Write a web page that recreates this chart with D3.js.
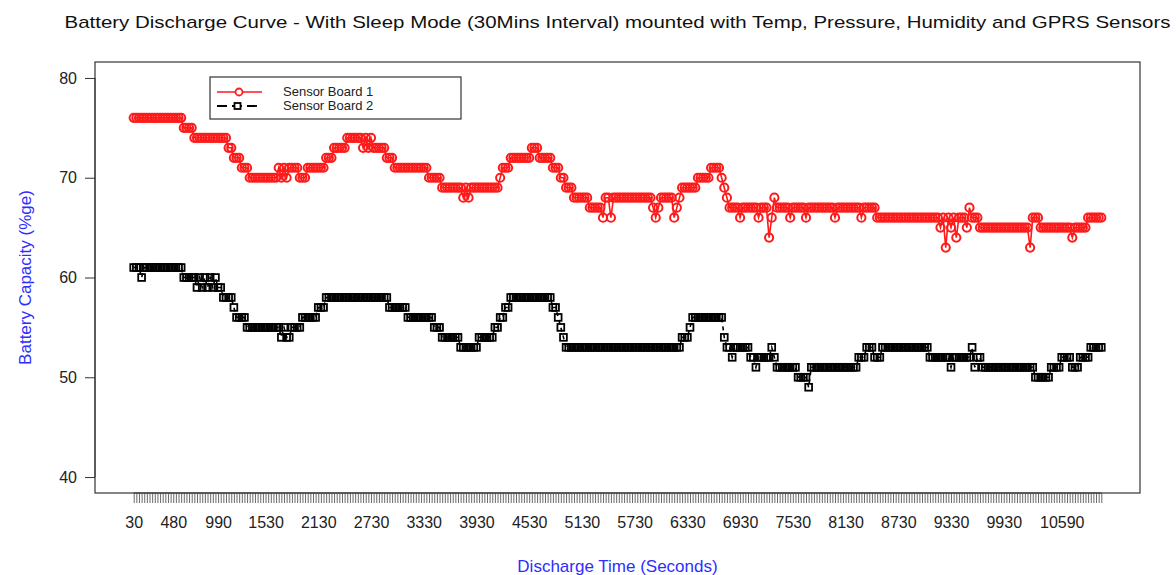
<!DOCTYPE html>
<html>
<head>
<meta charset="utf-8">
<script src="https://cdn.jsdelivr.net/npm/d3@7"></script>
<style>
	body { margin: 0; background: #fff; }
	text { font-family: "Liberation Sans", Arial, sans-serif; }
</style>
</head>
<body>
<div id="chart"></div>
<script>
// readings every 30 seconds, from 30s to 11040s
const times = d3.range(30, 11041, 30);

// battery capacity, as [value, number of consecutive readings]
const board1Runs = [
	[76,19],[75,4],[74,13],[73,2],[72,3],[71,3],[70,11],[71,1],[70,1],[71,1],[70,1],[71,4],[70,3],
	[71,7],[72,3],[73,5],[74,6],[73,1],[74,1],[73,1],[74,1],[73,5],[72,3],[71,13],[70,5],[69,8],
	[68,1],[69,1],[68,1],[69,11],[70,1],[71,3],[72,8],[73,3],[72,5],[71,3],[70,2],[69,3],[68,6],
	[67,5],[66,1],[68,2],[66,1],[68,15],[67,1],[66,1],[67,1],[68,5],[66,1],[67,1],[68,1],[69,6],
	[70,5],[71,4],[70,1],[69,1],[68,1],[67,4],[66,1],[67,6],[66,1],[67,3],[64,1],[66,1],[68,1],
	[67,5],[66,1],[67,5],[66,1],[67,10],[66,1],[67,9],[66,1],[67,5],[66,24],[65,1],[66,1],[63,1],
	[66,1],[65,1],[66,1],[64,1],[66,3],[65,1],[67,1],[66,3],[65,19],[63,1],[66,3],[65,12],[64,1],
	[65,5],[66,6]
];
const board2Runs = [
	[61,3],[60,1],[61,15],[60,5],[59,1],[60,1],[59,1],[60,1],[59,1],[60,1],[59,1],[60,1],[59,2],
	[58,4],[57,1],[56,4],[55,13],[54,1],[55,1],[54,2],[55,4],[56,6],[57,3],[58,24],[57,7],[56,10],
	[55,3],[54,7],[53,7],[54,6],[55,2],[56,2],[57,2],[58,16],[57,2],[56,1],[55,1],[54,1],[53,44],
	[54,3],[55,1],[56,12],[54,1],[53,2],[52,1],[53,6],[52,2],[51,1],[52,5],[53,1],[52,1],[51,8],
	[50,4],[49,1],[51,18],[52,3],[53,3],[52,3],[53,18],[52,8],[51,1],[52,7],[53,1],[51,1],[52,2],
	[51,20],[50,6],[51,4],[52,4],[51,3],[52,4],[53,5]
];

// labels that fit under the crowded axis
const xTickLabels = [30, 480, 990, 1530, 2130, 2730, 3330, 3930, 4530, 5130, 5730, 6330, 6930, 7530, 8130, 8730, 9330, 9930, 10590];
const yTicks = [40, 50, 60, 70, 80];
const seriesNames = ["Sensor Board 1", "Sensor Board 2"];

function expand(runs) {
	let out = [];
	runs.forEach(function(r) { for (let k = 0; k < r[1]; k++) out.push(r[0]); });
	return out;
}

const board1 = expand(board1Runs).map(function(v, i) { return {t: times[i], v: v}; });
const board2 = expand(board2Runs).map(function(v, i) { return {t: times[i], v: v}; });

const width = 1176, height = 575;
const box = {left: 95, right: 1140, top: 62, bottom: 493};

const svg = d3.select("#chart").append("svg")
	.attr("width", width)
	.attr("height", height);

// R style 4% padding on both axes
const tSpan = times[times.length - 1] - times[0];
const x = d3.scaleLinear()
	.domain([times[0] - 0.04 * tSpan, times[times.length - 1] + 0.04 * tSpan])
	.range([box.left, box.right]);
const y = d3.scaleLinear()
	.domain([40 - 0.04 * 40, 80 + 0.04 * 40])
	.range([box.bottom, box.top]);

// plot frame
svg.append("rect")
	.attr("x", box.left)
	.attr("y", box.top)
	.attr("width", box.right - box.left)
	.attr("height", box.bottom - box.top)
	.style("fill", "none")
	.style("stroke", "#333")
	.style("stroke-width", 1.2);

// y axis
const yAxis = svg.append("g")
	.attr("transform", "translate(" + box.left + ",0)")
	.call(d3.axisLeft(y).tickValues(yTicks).tickSize(10).tickPadding(8).tickFormat(d3.format("d")));
yAxis.select(".domain").attr("d", "M0," + y(40) + "V" + y(80)).style("stroke", "#333");
yAxis.selectAll("line").style("stroke", "#333");
yAxis.selectAll("text").style("font-size", "16px").style("fill", "#222");

// x axis: a tick for every reading, labels only where they fit
const xAxis = svg.append("g")
	.attr("transform", "translate(0," + box.bottom + ")")
	.call(d3.axisBottom(x).tickValues(times).tickSize(10).tickPadding(14)
		.tickFormat(function(d) { return xTickLabels.indexOf(d) >= 0 ? d : ""; }));
xAxis.select(".domain").attr("d", "M" + x(times[0]) + ",0H" + x(times[times.length - 1])).style("stroke", "#333");
xAxis.selectAll("line").style("stroke", "#444").style("stroke-width", 0.8);
xAxis.selectAll("text").style("font-size", "16px").style("fill", "#222");

// titles
svg.append("text")
	.attr("x", (box.left + box.right) / 2)
	.attr("y", 28)
	.attr("text-anchor", "middle")
	.attr("textLength", 1106)
	.attr("lengthAdjust", "spacingAndGlyphs")
	.style("font-size", "17px")
	.style("fill", "#111")
	.text("Battery Discharge Curve - With Sleep Mode (30Mins Interval) mounted with Temp, Pressure, Humidity and GPRS Sensors");

svg.append("text")
	.attr("x", (box.left + box.right) / 2)
	.attr("y", 572)
	.attr("text-anchor", "middle")
	.style("font-size", "17px")
	.style("fill", "#2d2dff")
	.text("Discharge Time (Seconds)");

svg.append("text")
	.attr("transform", "translate(31," + ((box.top + box.bottom) / 2) + ") rotate(-90)")
	.attr("text-anchor", "middle")
	.style("font-size", "17px")
	.style("fill", "#2d2dff")
	.text("Battery Capacity (%ge)");

const line = d3.line()
	.x(function(d) { return x(d.t); })
	.y(function(d) { return y(d.v); });

// Sensor Board 2: dashed black with open squares
svg.append("path")
	.datum(board2)
	.attr("d", line)
	.style("fill", "none")
	.style("stroke", "#000")
	.style("stroke-width", 1.6)
	.style("stroke-dasharray", "4,4");

svg.selectAll(".sq")
	.data(board2)
	.enter().append("rect")
	.attr("class", "sq")
	.attr("x", function(d) { return x(d.t) - 3.4; })
	.attr("y", function(d) { return y(d.v) - 3.4; })
	.attr("width", 6.8)
	.attr("height", 6.8)
	.style("fill", "none")
	.style("stroke", "#000")
	.style("stroke-width", 1.8);

// Sensor Board 1: red line with open circles
svg.append("path")
	.datum(board1)
	.attr("d", line)
	.style("fill", "none")
	.style("stroke", "#ff1a1a")
	.style("stroke-width", 1.6);

svg.selectAll(".dot")
	.data(board1)
	.enter().append("circle")
	.attr("class", "dot")
	.attr("cx", function(d) { return x(d.t); })
	.attr("cy", function(d) { return y(d.v); })
	.attr("r", 4.1)
	.style("fill", "none")
	.style("stroke", "#ff1a1a")
	.style("stroke-width", 2);

// legend
const legend = svg.append("g").attr("transform", "translate(210,77)");
legend.append("rect")
	.attr("width", 251)
	.attr("height", 42)
	.style("fill", "#fff")
	.style("stroke", "#333")
	.style("stroke-width", 1.2);

legend.append("line")
	.attr("x1", 7).attr("x2", 52).attr("y1", 15).attr("y2", 15)
	.style("stroke", "#ff1a1a").style("stroke-width", 1.6);
legend.append("circle")
	.attr("cx", 29).attr("cy", 15).attr("r", 3.5)
	.style("fill", "#fff").style("stroke", "#ff1a1a").style("stroke-width", 1.8);

legend.append("line")
	.attr("x1", 7).attr("x2", 52).attr("y1", 29).attr("y2", 29)
	.style("stroke", "#000").style("stroke-width", 1.8).style("stroke-dasharray", "10,5");
legend.append("rect")
	.attr("x", 24.5).attr("y", 26).attr("width", 6).attr("height", 6)
	.style("fill", "#fff").style("stroke", "#000").style("stroke-width", 1.8);

legend.selectAll(".legendText")
	.data(seriesNames)
	.enter().append("text")
	.attr("class", "legendText")
	.attr("x", 73)
	.attr("y", function(d, i) { return 19 + i * 14; })
	.style("font-size", "13px")
	.style("fill", "#222")
	.text(function(d) { return d; });
</script>
</body>
</html>
